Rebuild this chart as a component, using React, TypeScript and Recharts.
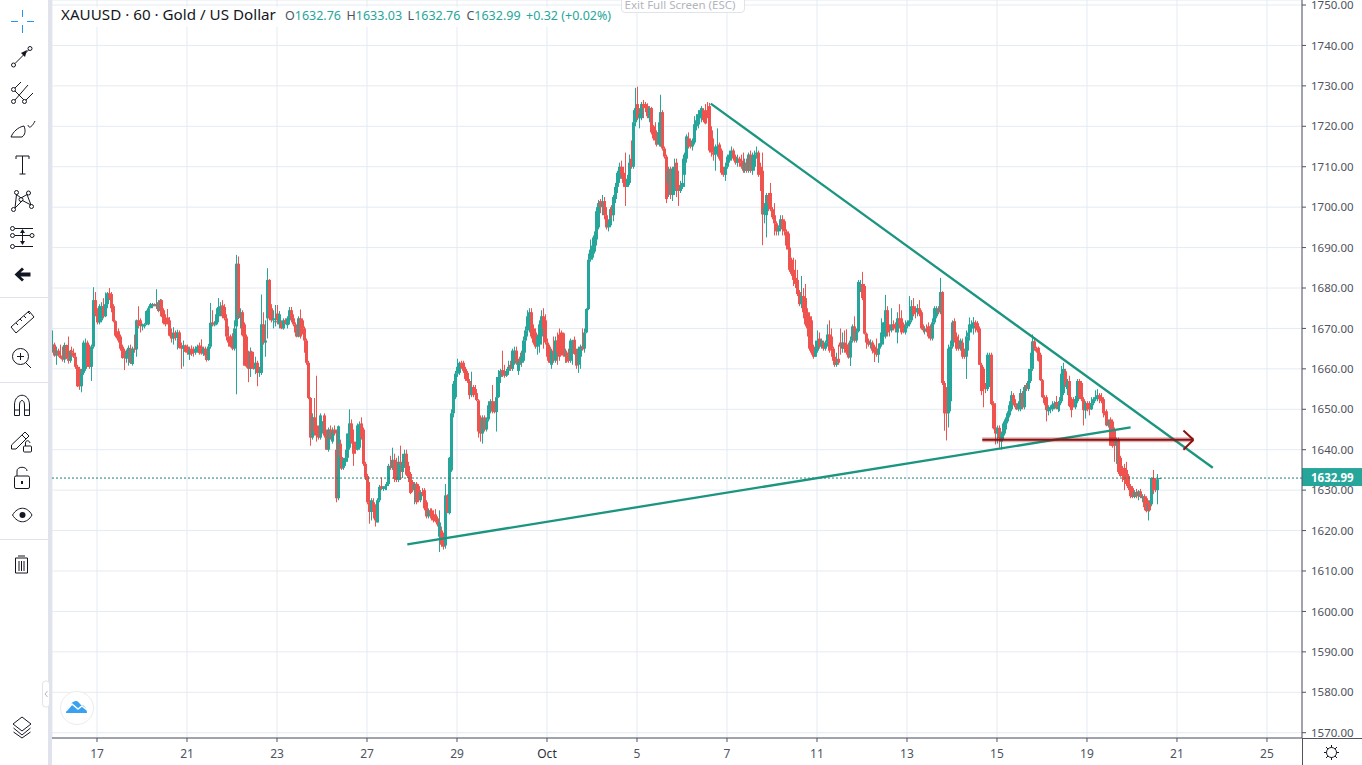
import React from "react";
import { ComposedChart, Bar, XAxis, YAxis, CartesianGrid, ReferenceLine } from "recharts";

// Hourly candles as [open, high, low, close], one list per stretch between two time ticks.
const sep16 = [[1665,1669.5,1664,1666],[1666,1666.5,1663,1663.3],[1663.3,1665.5,1661,1664.5],[1664.5,1665,1663,1663.3],[1663.3,1666,1662.5,1662.7],[1662.7,1665.5,1661.8,1662.3],[1662.3,1666.5,1661.5,1665.9],[1665.9,1666,1662.5,1662.5],[1662.5,1668,1661.3,1662],[1662,1664.7,1661.5,1664.5],[1664.5,1665.5,1663,1664],[1664,1665,1662.7,1663],[1663,1664,1660,1660.5],[1660.5,1661,1655.5,1655.7],[1660,1660.5,1654.8,1655.7],[1655.7,1660,1654.2,1659],[1659,1667,1658.5,1666.5],[1660,1667.5,1659.5,1666],[1666.5,1667,1660.5,1660.5],[1665.5,1666,1660,1660.5],[1660.5,1666,1657,1665.5],[1665.5,1680.2,1665,1677],[1677,1679,1673,1673.5]];
const sep17 = [[1674,1675,1671,1671.5],[1671.5,1676,1671,1675.5],[1672,1676.5,1671.5,1675.5],[1675.5,1677.5,1672.5,1673],[1673,1678.9,1672.8,1676],[1676,1679,1675,1678.7],[1678.7,1680,1677,1677.5],[1678.5,1679,1674,1675],[1675.5,1676,1671.5,1671.8],[1671.8,1672,1667.8,1668.2],[1669,1669.5,1667.5,1668],[1669.3,1670,1666.5,1667],[1668,1668.5,1664.5,1665],[1665.5,1666,1662.5,1662.7],[1664.5,1665,1659.7,1662.7],[1662.5,1664.8,1661.5,1664],[1662.7,1665.8,1660.8,1665.2],[1665,1666,1661.2,1661.5],[1661.2,1665.5,1660.8,1665],[1665,1668.5,1664,1664.8],[1664.8,1672.2,1663,1672],[1672,1675.5,1670,1670.6],[1672,1672.5,1669,1670.8]];
const sep21 = [[1670.5,1671.2,1669.5,1671],[1670.5,1671.3,1670,1671],[1671,1674.5,1670.8,1674.3],[1671,1675.5,1670.8,1675],[1675,1676.3,1675,1676],[1675.5,1676.3,1675,1676],[1676,1676.2,1675.5,1675.5],[1675.5,1679.7,1674.8,1676],[1676.5,1677,1674,1674.3],[1674.3,1677.3,1674,1677],[1677,1677.2,1672.8,1673],[1674.5,1675,1671,1671.3],[1672,1673.5,1670.5,1671],[1672.7,1674.8,1671,1671.5],[1672,1672.8,1668,1668.2],[1669,1670,1666.5,1667.5],[1667.5,1670.3,1666,1668.8],[1669,1669.5,1667,1667.7],[1667.7,1669.7,1664.8,1669],[1669,1669.5,1665,1665.2],[1665.8,1666.5,1660,1665],[1665,1667,1660.6,1665.8],[1665.8,1666,1664,1664.2]];
const sep22 = [[1665.5,1666,1663.5,1664],[1663.5,1665.5,1662.2,1664.5],[1665,1665.8,1663.2,1663.7],[1664.5,1665.5,1663,1664],[1664,1665.6,1663.5,1665],[1664.5,1666,1664,1665.5],[1665.8,1666.5,1663.5,1663.9],[1665.5,1667.3,1663.5,1663.8],[1663.8,1665.5,1663.2,1665],[1665,1665.5,1663,1663.3],[1663.8,1664.2,1661.8,1662.2],[1662.2,1666.2,1662,1665.5],[1665.5,1676.3,1665,1671.4],[1671.5,1674.5,1670.5,1671],[1671,1671.8,1670.5,1671],[1671,1675,1670.8,1673.5],[1673,1677.5,1671.5,1675.3],[1675,1676.5,1673,1675.5],[1675.7,1677,1672.5,1673],[1675.3,1676,1672,1672.5],[1672.5,1673.5,1667,1668],[1668,1670.5,1665.5,1666.5],[1668,1668.5,1665.3,1665.5]];
const sep23 = [[1668,1668.8,1664.6,1665],[1665,1672,1664.5,1670],[1670.5,1688.2,1653.7,1686],[1686,1687.8,1672.3,1672.6],[1672.6,1675,1670,1674],[1674,1674.5,1668,1668.3],[1671,1671.5,1660.8,1660.8],[1668,1668.5,1660.3,1660.6],[1664,1664.5,1656.7,1660],[1660,1665.3,1658,1664.3],[1664.3,1664.5,1660,1660.2],[1661.5,1664.2,1659.8,1660],[1660,1663,1658.7,1661.5],[1661.5,1662,1655.7,1659],[1659,1660.5,1658,1659.2],[1659,1678.4,1658.5,1671],[1671,1674,1666,1666.5],[1666.5,1672,1663,1667],[1672.5,1684.9,1667.5,1682],[1682,1682.2,1672,1672.5],[1675,1676,1671.5,1672],[1672,1674.5,1670,1672.5],[1671.5,1675.8,1670.5,1671.8]];
const sep24 = [[1673.7,1675.8,1671,1672],[1671,1674.3,1670,1673.5],[1671.5,1672,1669.8,1670],[1670,1672.5,1669.7,1672],[1672,1672.5,1671,1671.3],[1670.8,1673,1670,1672.5],[1672,1675.3,1671,1674.5],[1674.5,1675.3,1671.5,1672.2],[1672.5,1673.5,1670.5,1671],[1671,1671.5,1668.5,1669],[1669.5,1670,1667.8,1668],[1668,1673,1667.8,1672.5],[1672.5,1674.7,1667.5,1668],[1672,1672.5,1668.5,1670],[1670,1670.5,1664,1667],[1667,1667.5,1661,1661.5],[1661.5,1662,1652.5,1652.8],[1652.8,1653,1641,1643],[1643,1649,1642.5,1648],[1648,1652.8,1643.5,1644.5],[1646,1658.3,1642,1643.5],[1645.5,1646,1642.5,1643],[1643,1649,1642.5,1648.5]];
const sep25 = [[1646,1647,1644,1647],[1648.5,1649,1643,1643.5],[1644.5,1645,1640,1640],[1640,1645.5,1639.5,1645],[1645,1646,1642.5,1642.8],[1642,1645.5,1641.5,1644.5],[1645,1646,1643.5,1644],[1640,1645,1627,1628],[1628,1646,1627.5,1645.8],[1641.5,1642.5,1638,1638.3],[1638.2,1640.5,1635,1635.3],[1635.5,1638,1635,1637.5],[1637,1640,1636,1638],[1638,1644,1637,1644],[1640.5,1650,1640,1646.5],[1646.5,1647.5,1641.5,1641.8],[1642,1645,1636,1639],[1641.5,1642,1639,1640],[1640,1646.5,1639.8,1646],[1640.5,1647,1640,1646.3],[1646.5,1648,1642.5,1643],[1645,1645.5,1636,1636.5],[1636.5,1637,1632.5,1633.2]];
const sep28 = [[1633.5,1634,1626.5,1627],[1627,1632,1621.7,1624.6],[1624.6,1628,1622.5,1627.5],[1627,1628,1623,1624.8],[1625,1626.5,1621,1622.5],[1622,1628,1622,1627.5],[1627.5,1631.3,1627,1630.8],[1631,1633.2,1630,1630.3],[1630.3,1631,1629.8,1630.8],[1630.5,1631.5,1630,1631],[1631,1632,1630,1631.5],[1631.5,1636.5,1631,1636],[1636,1638.5,1635,1635.5],[1635.5,1640.5,1635,1637.5],[1637.5,1639,1632,1632.8],[1637,1638,1632,1632.5],[1632.5,1638.5,1632,1637],[1637,1641,1632.5,1636.5],[1634.5,1639,1633,1636.7],[1636.7,1640,1635.5,1639],[1639,1640,1633.5,1633.8],[1636,1637,1632,1633],[1634,1634.5,1629,1629.3]];
const sep29 = [[1632,1632.5,1629.5,1630],[1630,1632,1626.5,1631.5],[1631.6,1632,1626.5,1627],[1631,1631.5,1627,1627.5],[1627.5,1630,1627,1629.5],[1629.5,1630.5,1628.5,1629],[1630,1630.5,1625,1625.5],[1627,1627.5,1623,1623.5],[1623.5,1625.5,1623,1625],[1625,1625.5,1623,1624],[1625,1625.5,1622.5,1623.5],[1624,1625,1622,1622.5],[1624,1625.3,1622,1622.3],[1623,1623.5,1621,1621.5],[1618.5,1625,1614.7,1622],[1620,1621,1616,1616.5],[1619,1619.5,1615.3,1616],[1616.3,1631.5,1615.5,1628.7],[1628.7,1629,1624.3,1624.5],[1624.3,1638.2,1624,1638],[1634.9,1650,1634.5,1649],[1649,1657,1648,1656.3],[1653,1659.5,1652.5,1658.8]];
const sep30 = [[1658.8,1662.5,1658,1660.5],[1659,1661.8,1658.5,1661.5],[1661.5,1662,1660,1660.2],[1661.5,1662,1659,1659.5],[1660,1660.5,1657,1657.5],[1659,1659.5,1656.5,1657],[1657,1657.5,1652.5,1653.5],[1653.5,1659.3,1653,1655.5],[1655.5,1656,1653,1653.5],[1655,1656,1652.5,1654],[1654,1654.5,1652,1652.3],[1652.2,1652.5,1643,1644.5],[1648,1648.5,1642,1644],[1644,1648.5,1641.5,1647.6],[1648,1648.5,1644.5,1645],[1645,1648,1644.5,1647.5],[1647.5,1652,1647,1651],[1649.5,1652.5,1649,1652],[1652,1656,1649,1649.5],[1651.5,1652,1649,1649.3],[1649.3,1658,1644.5,1653],[1653,1659.7,1652.8,1658],[1658,1660,1656.5,1659.5]];
const oct1 = [[1659.7,1664.5,1658,1658.5],[1659,1661,1657.8,1658.3],[1658.3,1660,1658,1659.5],[1659.5,1662,1658.5,1660.5],[1661,1662,1659.5,1660],[1660,1665,1659.5,1664.5],[1661.5,1665.5,1661,1664.5],[1664.5,1665.5,1661,1661.3],[1659.5,1662.5,1658.5,1662],[1663,1664,1661,1661.5],[1661.5,1664.5,1660.5,1663],[1662,1668,1661.5,1667],[1667,1670.5,1664,1669.5],[1669.5,1674.5,1668,1673],[1670,1675,1669,1674],[1674,1675,1667.5,1668],[1670,1671,1666,1666.5],[1669,1670,1665,1665.5],[1665.5,1668.5,1663.5,1668],[1666,1672,1664,1671],[1668,1674.5,1666,1673],[1673,1675,1665,1670],[1672,1673.5,1666,1666.5]];
const oct2 = [[1666.5,1667.5,1662,1663],[1665.5,1666,1661.5,1661.5],[1661,1665,1660,1664.5],[1664.5,1668,1661.5,1664],[1662,1668,1661.5,1667],[1667,1669,1661,1664],[1668.5,1670,1662,1663],[1669,1669.5,1663.3,1663.5],[1668.8,1669,1663,1663.3],[1663,1665,1661.5,1664],[1664,1664.5,1661.5,1661.8],[1664,1665,1661.5,1662],[1662,1667.5,1661.5,1667],[1664,1667.2,1661,1667],[1667.2,1668,1663.5,1663.7],[1664,1665,1660,1660.8],[1661,1665.5,1659,1665],[1663,1666,1660,1665.5],[1665.6,1670,1664.5,1664.8],[1665,1670,1664,1669],[1669,1675,1668.8,1674.8],[1674.8,1688.5,1674.5,1687],[1687,1692,1686.5,1689.5]];
const oct5 = [[1687.5,1692.5,1687,1690.5],[1689,1694,1688.5,1693],[1692,1700,1690.5,1699],[1695,1701.8,1694.5,1701],[1701.5,1702,1698.5,1700],[1700,1703,1698,1701],[1701.5,1702.5,1697,1698],[1698,1700,1694.5,1695],[1695,1697,1694,1696],[1695.5,1700,1695,1699.5],[1699.5,1700.5,1697,1698],[1698,1703,1696.5,1702.5],[1702,1706,1701,1705],[1705,1709,1703.5,1708.5],[1707,1711,1706,1710],[1710,1711.5,1707,1708],[1708.5,1710,1705,1706],[1707,1713.5,1700.3,1705],[1705,1708,1705,1707],[1706,1713,1705.5,1711],[1712,1716.5,1709.5,1710],[1710,1724,1709.5,1721],[1721,1729.5,1720,1724.5]];
const oct6 = [[1725.5,1729.8,1721.5,1722],[1722,1724.5,1719.5,1723],[1722,1726,1721.5,1725.5],[1725.5,1726.5,1722,1724.5],[1725.5,1726,1723.5,1724.5],[1725,1725.7,1722,1722.5],[1722,1725,1721,1724.5],[1724.5,1724.8,1718,1718.5],[1720,1720.3,1716.5,1717],[1719,1721,1715.5,1716.5],[1718.5,1718.5,1715,1715.5],[1715.5,1721,1715.5,1718.5],[1715,1727.8,1715,1723.5],[1723.5,1724,1714,1714.5],[1714.5,1715,1712,1712.5],[1712.5,1713,1701,1702],[1706,1710,1702.5,1709],[1709.5,1710,1702,1703],[1703,1710,1701.5,1709.5],[1704,1712,1703,1710],[1711,1712,1702.5,1704.5],[1705.5,1709,1700.3,1704],[1704,1706.5,1703.5,1705]];
const oct7 = [[1705,1712,1704.5,1706],[1708,1713.5,1705,1713],[1712,1718,1711,1717.5],[1717,1718.5,1714.5,1715],[1716,1717,1714.5,1715],[1715,1717,1714,1716.5],[1716,1722.5,1715.5,1720.5],[1720,1723,1719,1721.5],[1720.5,1724,1719.5,1723],[1722,1724,1720.5,1723.5],[1722,1725,1721,1724.5],[1724,1724.5,1721,1721.5],[1723.5,1725.5,1720.5,1720.7],[1724,1726,1722,1723],[1725,1725.8,1713.5,1714],[1719,1720,1712.5,1713.5],[1713.5,1717,1711.5,1713],[1713,1715.5,1709,1715],[1714,1719.5,1712.5,1715],[1715.5,1716,1711.5,1712],[1714,1714.5,1708,1708.5],[1709.5,1710,1707.5,1708],[1708,1711,1706.5,1710]];
const oct8 = [[1710,1713,1709.5,1712.5],[1711.5,1714,1711,1713],[1712.5,1715,1711.5,1714],[1714,1714.5,1711.5,1712],[1712.5,1713,1710.5,1711],[1711,1713,1710,1712],[1712,1712.5,1710,1711],[1711,1713,1709.5,1710],[1711.5,1713.5,1708.5,1709],[1709,1712,1708.5,1711],[1711,1712,1708.5,1709],[1709,1713.5,1708.5,1713],[1713,1714,1708.5,1709],[1709,1713.5,1708,1712.5],[1710,1714,1709,1713],[1713,1715,1712,1713.5],[1713.5,1714,1707.5,1708],[1710,1711,1704,1708],[1709,1713.5,1690.6,1698.2],[1698.2,1701,1696,1700],[1698,1703.5,1692.5,1703],[1703,1703.5,1699,1701],[1703.5,1706,1699,1699.5]];
const oct9 = [[1699.5,1700,1697,1697.5],[1698,1701,1693,1696],[1696,1696.5,1693,1694],[1694,1695.5,1693,1695],[1695,1698,1694,1697],[1697,1698,1693,1694.5],[1696.5,1697,1693,1694],[1694,1694.5,1689.5,1690.5],[1693.5,1694,1688.5,1689.5],[1690,1690.5,1684,1684.5],[1687,1687.5,1683,1683.5],[1684.5,1687.5,1680.5,1682],[1682.5,1687,1680,1681],[1682,1684.5,1678,1678.5],[1679,1679.5,1675.5,1676],[1676,1683,1675,1678],[1678,1680,1672.5,1674],[1677.5,1681,1670.5,1671],[1674,1675,1668,1670],[1673,1674,1664.5,1665],[1672,1673,1663.5,1664],[1665.5,1666,1662.5,1663],[1663,1667,1663,1665]];
const oct12 = [[1664.5,1669.5,1664,1667],[1667.5,1669,1665,1665.5],[1665.5,1667.5,1665,1667],[1666.5,1667,1664.5,1665],[1665,1667,1664.5,1666.5],[1666.5,1671,1665.5,1668.5],[1668.5,1672,1664,1664.5],[1668,1670,1663,1665],[1665,1665.5,1661.5,1662],[1663,1663.5,1660.5,1661],[1661,1664,1660.5,1661.5],[1662.5,1666,1661,1661.5],[1666.5,1670,1663.5,1665.5],[1665,1669,1664,1666.5],[1666.5,1669.5,1664,1665],[1666,1669.8,1663.5,1664],[1666,1666.5,1662.5,1662.8],[1662.8,1668,1660.7,1667],[1667,1671,1666.5,1670.5],[1670.5,1673,1666.5,1667],[1667,1670,1666.5,1669.3],[1669.3,1682,1669,1681.5],[1680,1682,1679,1681]];
const oct13 = [[1681,1684,1677,1677.5],[1680.5,1681,1668.5,1668.7],[1668.7,1669,1665,1666.5],[1667,1667.5,1665.5,1666],[1666,1667.3,1665,1666.5],[1666.5,1667,1663.8,1664.5],[1665.5,1666,1661.7,1664],[1665,1667.5,1663,1663.5],[1663.5,1666,1661.5,1665],[1665,1666.3,1664,1666.3],[1666,1672.5,1665.5,1669],[1668,1671.5,1666,1671.5],[1668,1678.3,1667.5,1674.5],[1674.5,1675.5,1668,1669],[1670,1671,1668,1669.5],[1669.5,1675,1669,1671],[1671,1672,1669.5,1670],[1671,1671.5,1669,1670],[1669,1674,1666.3,1672.5],[1672.5,1676,1670,1671],[1672.5,1674.5,1668.5,1669],[1671,1671.5,1668.8,1669.3],[1669,1672,1668.5,1670.5]];
const oct14 = [[1670.5,1672,1670,1671.5],[1671,1678,1670.5,1672],[1672,1677,1671.5,1675.5],[1675.5,1677.5,1673,1673.5],[1675,1675.5,1672.5,1674],[1674,1676,1673,1675],[1675,1677,1673,1673.5],[1674,1674.5,1669.7,1670],[1670.5,1671,1669,1669.5],[1669.5,1670.5,1668.5,1669.8],[1670,1671,1669,1669.2],[1670.5,1671.5,1667.5,1668],[1670.5,1671,1667,1667.5],[1667.5,1672.5,1667,1671.5],[1671.5,1675.5,1671,1675],[1673,1675.5,1672.5,1675],[1675,1675.5,1673.5,1674],[1674,1682.5,1673.5,1679],[1679,1679.2,1656,1656.5],[1656.5,1657,1644.7,1649],[1655,1655.5,1642.3,1649],[1649,1666,1645.5,1665],[1652,1667,1649.5,1665.5]];
const oct15 = [[1665.5,1672,1665,1671.5],[1671.8,1672.5,1666.5,1667],[1668,1669,1664.5,1665],[1667,1668.5,1664.5,1665],[1665,1667.5,1664.5,1667],[1666.5,1667.5,1662.5,1663],[1664,1665,1662.5,1663],[1663,1669.5,1657.5,1668],[1668,1670,1664.5,1669],[1669,1672.7,1667,1671],[1670,1672,1669,1671],[1670,1672.8,1668.5,1671.5],[1671.5,1672,1669,1670.5],[1671.3,1671.8,1669,1669.5],[1670,1670.5,1661,1661],[1661,1661.5,1653.5,1654.5],[1660,1660.5,1650.5,1655],[1656,1656.5,1654,1655],[1655,1664,1654.5,1663.5],[1656,1664,1655.5,1663],[1663.5,1664,1651,1651.3],[1651.5,1652,1645,1645.3],[1645.5,1651.5,1641.3,1644]];
const oct16 = [[1644,1646,1641.5,1645.4],[1645.4,1646,1640.5,1642.8],[1642,1644.5,1640,1644],[1643.5,1647,1642.5,1646.5],[1645,1648,1644,1647.5],[1647,1649.5,1646.5,1649],[1648.5,1652,1648,1651],[1650,1654.5,1649.5,1653.5],[1653.5,1654,1651,1651.5],[1652.5,1653,1650.5,1651],[1651,1651.5,1649.8,1650],[1650,1652,1649.5,1651.5],[1650,1655,1649.5,1654],[1654,1654.5,1650,1650.5],[1650.5,1656,1650,1655.5],[1656,1656.5,1654.5,1655],[1655,1660,1654.5,1657],[1657,1664,1656.5,1660],[1660,1668.5,1659.5,1666.8],[1666.8,1667.5,1664.5,1665],[1665,1665.5,1664,1664.3],[1665.2,1665.5,1661.8,1662],[1663.5,1664,1657,1657.2]];
const oct19 = [[1657.2,1657.5,1652.8,1653],[1653,1653.5,1651,1651.5],[1653,1653.5,1647,1649.8],[1649.5,1651,1648.5,1650.5],[1650,1651,1649,1650.5],[1650,1652,1649.5,1651.2],[1650.5,1652,1650,1651.5],[1651.8,1653.3,1650,1650.2],[1650,1652,1649.3,1651],[1651,1653,1649.5,1652],[1652,1660.7,1651.5,1658.8],[1654,1661.5,1653.5,1660],[1659.4,1660,1655.5,1656],[1655,1657.5,1653.5,1657],[1657,1658.3,1650.5,1650.8],[1652.5,1653,1648,1649.8],[1652.5,1653,1650.5,1650.5],[1650.5,1653.3,1650,1652.5],[1652,1657.5,1651.5,1657],[1657,1657.5,1652.5,1652.8],[1656.5,1657,1652,1652.5],[1652.5,1653,1646,1649.8],[1649.7,1652,1647.7,1651.5]];
const oct20 = [[1651.5,1652,1649.5,1650],[1651.5,1652,1648.5,1650],[1650,1653,1649.8,1651.5],[1651.5,1653,1651,1652.5],[1652.5,1654.7,1652,1653],[1652.5,1655,1652,1653.5],[1653.5,1654,1651.5,1652.5],[1653,1654,1651.5,1652],[1652.5,1653,1648,1649],[1649.5,1650,1648.5,1649],[1649.5,1650,1645.8,1646],[1646,1647.5,1645.5,1647],[1647.5,1648,1641,1641],[1647,1647.5,1640.5,1640.9],[1645,1645.5,1637,1641],[1641,1643,1636.5,1642.5],[1642.5,1643,1634,1634.5],[1638,1638.5,1633.3,1633.5],[1635.5,1636,1632,1633.5],[1635.5,1636.5,1630,1632.5],[1635,1637,1631,1631.5],[1633.5,1634,1630,1630.5],[1631,1631.5,1628,1628.5]];
const oct21 = [[1630.5,1631,1628,1628.3],[1628.3,1630,1628,1629.5],[1629.5,1630.3,1628,1628.5],[1628.5,1630,1627.5,1629.7],[1629.7,1630.3,1628,1628.3],[1628,1629,1627,1628.5],[1628.5,1629,1625,1625.8],[1628,1628.5,1624.5,1624.8],[1625,1627.5,1622.5,1626.5],[1627,1627.5,1624.7,1625],[1626.5,1633.2,1626,1633],[1633,1635,1629,1630],[1632.5,1633,1629.5,1630],[1630,1634,1626.5,1632.7],[1632.76,1633.03,1632.76,1632.99]];

const stretches = [sep16, sep17, sep21, sep22, sep23, sep24, sep25, sep28, sep29, sep30, oct1, oct2, oct5, oct6, oct7, oct8, oct9, oct12, oct13, oct14, oct15, oct16, oct19, oct20, oct21];
const candles = stretches.flat().map((c, i) => ({ slot: i, open: c[0], high: c[1], low: c[2], close: c[3] }));

const timeTickSlots = [23, 69, 115, 161, 207, 253, 299, 345, 391, 437, 483, 529, 575, 621];
const timeTickLabels = ["17", "21", "23", "27", "29", "Oct", "5", "7", "11", "13", "15", "19", "21", "25"];
const priceTicks = [1570, 1580, 1590, 1600, 1610, 1620, 1630, 1640, 1650, 1660, 1670, 1680, 1690, 1700, 1710, 1720, 1730, 1740, 1750];
const lastPrice = 1632.99;

const risingLine = [{ x: 181.6, y: 1616.6 }, { x: 551.3, y: 1645.5 }];
const fallingLine = [{ x: 336.7, y: 1725.6 }, { x: 593.3, y: 1635.55 }];
const levelLine = [{ x: 475.5, y: 1642.47 }, { x: 583.4, y: 1642.47 }];
const arrowUpper = [{ x: 578.3, y: 1644.77 }, { x: 583.4, y: 1642.47 }];
const arrowLower = [{ x: 578.3, y: 1640.0 }, { x: 583.4, y: 1642.47 }];

const UP = "#26a69a";
const DOWN = "#ef5350";
const GRID = "#e4ebf2";
const AXIS = "#50535e";
const TEXT = "#50535e";
const LINE_GREEN = "#1b9580";
const LEVEL_RED = "#8e1111";
const FONT = "'Noto Sans', 'Open Sans', sans-serif";

function Candle(props: any) {
  const { x, y, width, height, payload } = props;
  const span = payload.high - payload.low || 1;
  const top = Math.max(payload.open, payload.close);
  const bottom = Math.min(payload.open, payload.close);
  const bodyY = y + ((payload.high - top) / span) * height;
  const bodyH = Math.max(1, ((top - bottom) / span) * height);
  const cx = Math.round(x + width / 2);
  const color = payload.close >= payload.open ? UP : DOWN;
  return (
    <g>
      <rect x={cx} y={y} width={1} height={height} fill={color} />
      <rect x={cx - 1} y={bodyY} width={3} height={bodyH} fill={color} />
    </g>
  );
}

function TimeTick(props: any) {
  const { x, y, payload } = props;
  const label = timeTickLabels[timeTickSlots.indexOf(payload.value)];
  return (
    <text x={x} y={y + 14} textAnchor="middle" fontFamily={FONT} fontSize={12} fill={label === "Oct" ? "#2a2e39" : TEXT}>
      {label}
    </text>
  );
}

function LastPriceTag(props: any) {
  const { viewBox } = props;
  const right = viewBox.x + viewBox.width;
  return (
    <g>
      <rect x={right} y={viewBox.y - 10} width={60} height={18} fill={UP} />
      <text x={right + 9} y={viewBox.y + 4} fontFamily={FONT} fontSize={11.5} fontWeight={700} fill="#fff">
        {lastPrice.toFixed(2)}
      </text>
    </g>
  );
}

const ink = "#131722";

function Toolbar() {
  const s = { fill: "none", stroke: ink, strokeWidth: 1 };
  return (
    <svg width={52} height={765} style={{ position: "absolute", left: 0, top: 0 }}>
      <rect x={48} y={0} width={4} height={765} fill="#e0e3eb" />
      <g stroke="#e0e3eb">
        <line x1={0} x2={48} y1={297.5} y2={297.5} />
        <line x1={0} x2={48} y1={382.5} y2={382.5} />
        <line x1={0} x2={48} y1={539.5} y2={539.5} />
      </g>
      <g stroke="#2196f3" strokeWidth={1}>
        <line x1={22.5} x2={22.5} y1={10} y2={17} />
        <line x1={22.5} x2={22.5} y1={25} y2={33} />
        <line x1={11} x2={18} y1={21.5} y2={21.5} />
        <line x1={27} x2={34} y1={21.5} y2={21.5} />
      </g>
      <g {...s}>
        <circle cx={13.5} cy={65} r={2} />
        <circle cx={30} cy={48.5} r={2} />
        <line x1={15} y1={63.5} x2={28.5} y2={50} />
      </g>
      <path d="M21 53 L27 50 L25 57 Z" fill={ink} />
      <g {...s}>
        <circle cx={13.5} cy={89.5} r={2} />
        <circle cx={13.5} cy={101.5} r={2} />
        <circle cx={24.5} cy={101.5} r={2} />
        <line x1={15} y1={88} x2={21} y2={82} />
        <line x1={15} y1={100} x2={28} y2={85} />
        <line x1={26} y1={100} x2={33} y2={93} />
        <line x1={15} y1={91} x2={24} y2={100} />
      </g>
      <g {...s}>
        <path d="M11 137 L22 137 C25 135 26 131 24 126 C18 127 13 132 11 137 Z" />
        <path d="M28 125 C29 129 32 127 35 121" />
      </g>
      <g stroke={ink} strokeWidth={1} fill="none">
        <path d="M16 159 V156 H29 V159 M22.5 156 V174 M19.5 174 H25.5" />
      </g>
      <g {...s}>
        <circle cx={16.5} cy={192.5} r={2} />
        <circle cx={28.5} cy={193} r={2} />
        <circle cx={21} cy={199.5} r={2} />
        <circle cx={13.5} cy={209.5} r={2} />
        <circle cx={31.5} cy={206.5} r={2} />
        <path d="M15 208 L16.5 194.5 L21 198 L27 194.5 L31 205 L22.5 200.5 L15 208" />
      </g>
      <g {...s}>
        <line x1={15} x2={33} y1={228.5} y2={228.5} />
        <line x1={15} x2={30} y1={235.5} y2={235.5} />
        <line x1={15} x2={33} y1={246.5} y2={246.5} />
        <circle cx={12.5} cy={228.5} r={2} />
        <circle cx={12.5} cy={235.5} r={2} />
        <circle cx={32} cy={235.5} r={2} />
        <circle cx={12.5} cy={246.5} r={2} />
        <line x1={22.5} x2={22.5} y1={231} y2={244} />
      </g>
      <path d="M22.5 229 L20 233 H25 Z M22.5 245 L20 241 H25 Z" fill={ink} />
      <path d="M14.5 274.5 L22 267.5 L24 269.5 L20.5 272.5 H30.5 V276.5 H20.5 L24 279.5 L22 281.5 Z" fill={ink} />
      <g {...s}>
        <path d="M11 327 L29 311 L34 317 L16 333 Z" />
        <path d="M16 323 l2 2 M20 319 l2 2 M24 316 l2 2 M28 312 l2 2" />
      </g>
      <g {...s}>
        <circle cx={20.5} cy={356.5} r={8} />
        <path d="M26 363 L31 368 M20.5 353 V360 M17 356.5 H24" />
      </g>
      <g {...s}>
        <path d="M14.5 415.5 V405 C14.5 392 29.5 392 29.5 405 V415.5 H24.5 V405 C24.5 399 19.5 399 19.5 405 V415.5 Z" />
        <path d="M14.5 410 H19.5 M24.5 410 H29.5" />
      </g>
      <g {...s}>
        <path d="M11.5 445 L25 432 L29 436 L16 449 H11.5 Z M22 435 L26 439" />
        <rect x={23.5} y={446} width={8} height={6} rx={1} />
        <path d="M25.5 446 V443 C25.5 440 29.5 440 30 443" />
      </g>
      <g {...s}>
        <rect x={14.5} y={476} width={15} height={12.5} rx={1.5} />
        <path d="M17 476 V471 C17 466 27 466 27 471" />
      </g>
      <rect x={21} y={481} width={2} height={3} fill={ink} />
      <path d="M12.5 515 C18 506 27 506 32 515 C27 524 18 524 12.5 515 Z" {...s} />
      <circle cx={22.5} cy={515} r={3} fill={ink} />
      <g {...s}>
        <path d="M15.5 558 H27.5 V573 H15.5 Z M18 556 H25 M19 561 V571 M21.5 561 V571 M24 561 V571" />
      </g>
      <g {...s}>
        <path d="M22 717 L31 724 L22 731 L13 724 Z" />
        <path d="M13.5 728 L22 735 L30.5 728 M13.5 732 L22 738 L30.5 732" />
      </g>
      <rect x={42.5} y={681} width={7} height={26} rx={3} fill="#fff" stroke="#e0e3eb" />
      <path d="M47.5 691 L45 694 L47.5 697" fill="none" stroke="#b2b5be" />
    </svg>
  );
}

function Overlay() {
  return (
    <svg width={1362} height={765} style={{ position: "absolute", left: 0, top: 0, pointerEvents: "none" }}>
      <circle cx={77} cy={708} r={16.5} fill="#fff" stroke="#ececec" />
      <path d="M66 713 C66 709 68 707 70 707 C71 703 73 701 76 701 C78 701 79 703 81 705 C84 705 87 708 87 713 Z" fill="#3aa0f0" />
      <path d="M66 711 L72 704 L78 709 L82 706 L87 710" fill="none" stroke="#fff" strokeWidth={1.5} />
      <rect x={53} y={7} width={565} height={20} fill="#fff" fillOpacity={0.8} />
      <text x={61} y={20} fontFamily={FONT} fontSize={15.2} fill="#131722">XAUUSD · 60 · Gold / US Dollar</text>
      <text x={285} y={20} fontFamily={FONT} fontSize={12.5} fill={UP}>
        <tspan fill={TEXT}>O</tspan>1632.76<tspan dx={5.5} fill={TEXT}>H</tspan>1633.03<tspan dx={5.5} fill={TEXT}>L</tspan>1632.76<tspan dx={6} fill={TEXT}>C</tspan>1632.99<tspan dx={5.5}>+0.32 (+0.02%)</tspan>
      </text>
      <path d="M621.5 0 V9 Q621.5 12.5 625 12.5 H741 Q744.5 12.5 744.5 9 V0" fill="#fff" stroke="#e0e3eb" />
      <text x={680} y={9} textAnchor="middle" fontFamily={FONT} fontSize={11.5} fill="#b2b5be">Exit Full Screen (ESC)</text>
      <line x1={1302.5} x2={1302.5} y1={738} y2={765} stroke={AXIS} />
      <line x1={1302} x2={1362} y1={738.5} y2={738.5} stroke={AXIS} />
      <g fill="none" stroke="#131722">
        <circle cx={1331.5} cy={752.5} r={5} />
        <path d="M1331.5 745 V747.5 M1331.5 757.5 V760 M1324 752.5 H1326.5 M1336.5 752.5 H1339 M1326 747 L1328 749 M1335 756 L1337 758 M1337 747 L1335 749 M1328 756 L1326 758" />
      </g>
    </svg>
  );
}

export default function App() {
  return (
    <div style={{ position: "absolute", left: 0, top: 0, width: 1362, height: 765, overflow: "hidden", background: "#fff" }}>
      <ComposedChart width={1362} height={765} data={candles} margin={{ top: 0, right: 0, bottom: 0, left: 52 }}>
        <CartesianGrid stroke={GRID} strokeWidth={1} />
        <XAxis
          dataKey="slot"
          type="number"
          domain={[0, 638.9]}
          allowDataOverflow
          ticks={timeTickSlots}
          interval={0}
          height={27}
          tickSize={4}
          stroke={AXIS}
          tick={<TimeTick />}
        />
        <YAxis
          orientation="right"
          type="number"
          width={60}
          domain={[1568.69, 1751.24]}
          allowDataOverflow
          ticks={priceTicks}
          interval={0}
          tickSize={4}
          tickMargin={5}
          stroke={AXIS}
          tick={{ fill: TEXT, fontSize: 11.5, fontFamily: FONT }}
          tickFormatter={(v: number) => v.toFixed(2)}
        />
        <ReferenceLine y={lastPrice} stroke="#1f7d72" strokeDasharray="2 2" label={<LastPriceTag />} />
        <Bar dataKey={(d: any) => [d.low, d.high]} barSize={3} shape={<Candle />} isAnimationActive={false} />
        <ReferenceLine segment={risingLine} stroke={LINE_GREEN} strokeWidth={2.3} ifOverflow="visible" />
        <ReferenceLine segment={fallingLine} stroke={LINE_GREEN} strokeWidth={2.3} ifOverflow="visible" />
        <ReferenceLine segment={levelLine} stroke={LEVEL_RED} strokeOpacity={0.3} strokeWidth={5} ifOverflow="visible" />
        <ReferenceLine segment={levelLine} stroke={LEVEL_RED} strokeWidth={2} ifOverflow="visible" />
        <ReferenceLine segment={arrowUpper} stroke={LEVEL_RED} strokeWidth={2} ifOverflow="visible" />
        <ReferenceLine segment={arrowLower} stroke={LEVEL_RED} strokeWidth={2} ifOverflow="visible" />
      </ComposedChart>
      <Toolbar />
      <Overlay />
    </div>
  );
}
